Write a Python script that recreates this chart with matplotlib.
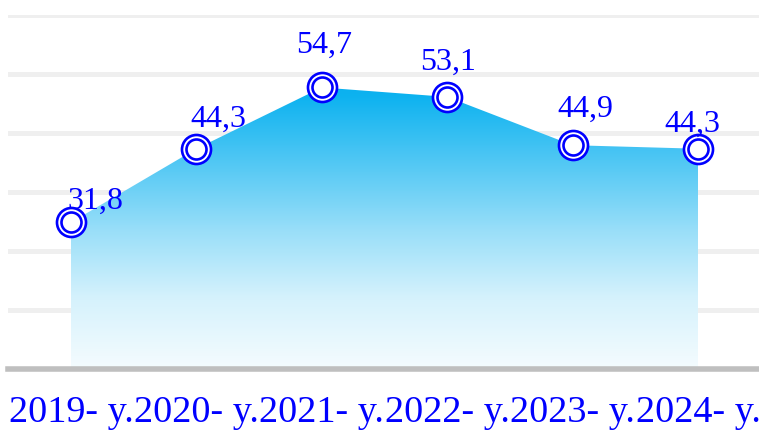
import numpy as np
import matplotlib
matplotlib.use("Agg")
import matplotlib.pyplot as plt
from matplotlib.colors import to_rgb

categories = ["2019- y.", "2020- y.", "2021- y.", "2022- y.", "2023- y.", "2024- y."]
values = [31.8, 44.3, 54.7, 53.1, 44.9, 44.3]
labels = ["31,8", "44,3", "54,7", "53,1", "44,9", "44,3"]

# label offsets in pixels (dx, dy above the point to the baseline)
label_dx = [24, 22, 2, 1, 13, -6]
label_dy = [14, 22, 35, 27, 28, 17]

W, H = 759, 432
fig = plt.figure(figsize=(W / 100, H / 100), dpi=100)
y_top_px, y_bot_px = 15, 368.5
ax = fig.add_axes([8.3 / W, 1 - y_bot_px / H, 752.4 / W, (y_bot_px - y_top_px) / H])
ymin, ymax = 7, 67
ax.set_xlim(-0.5, len(categories) - 0.5)
ax.set_ylim(ymin, ymax)

x = np.arange(len(categories))

# gridlines
for g in np.arange(ymin + 10, ymax + 0.1, 10):
    ax.axhline(g, color="#EFEFEF", lw=3.6, zorder=0)

# gradient fill clipped to the area polygon
poly = ax.fill_between(x, values, ymin, facecolor="none", edgecolor="none", zorder=1)
n = 400
yy = np.linspace(ymax, ymin, n)
anchor_v = [ymin, 19.1, 30.5, 42.4, 53.4, ymax]
anchor_a = [0.04, 0.165, 0.40, 0.69, 0.95, 1.0]
alpha = np.interp(yy, anchor_v, anchor_a)
base = np.array(to_rgb("#00AEEF"))
rgb = 1 - alpha[:, None] * (1 - base[None, :])
img = np.repeat(rgb[:, None, :], 2, axis=1)
im = ax.imshow(img, extent=[-0.5, len(categories) - 0.5, ymin, ymax], aspect="auto",
               origin="upper", zorder=1, interpolation="bilinear")
im.set_clip_path(poly.get_paths()[0], transform=ax.transData)

# markers: double ring
ax.plot(x, values, ls="none", marker="o", ms=20.9, mfc="white", mec="#0000FF", mew=1.9, zorder=3)
ax.plot(x, values, ls="none", marker="o", ms=14.4, mfc="white", mec="#0000FF", mew=1.9, zorder=4)

serif = ["Liberation Serif", "DejaVu Serif"]
for xi, v, lab, dx, dy in zip(x, values, labels, label_dx, label_dy):
    ax.annotate(lab, (xi, v), xytext=(dx * 0.72, dy * 0.72), textcoords="offset points",
                ha="center", va="baseline", fontsize=23, color="#0000FF", family=serif, zorder=5)

for s in ["top", "left", "right"]:
    ax.spines[s].set_visible(False)
ax.spines["bottom"].set_color("#BFBFBF")
ax.spines["bottom"].set_linewidth(4.0)
ax.spines["bottom"].set_zorder(6)
ax.set_yticks([])
ax.set_xticks(x)
ax.set_xticklabels(categories, fontsize=27.5, color="#0000FF", family=serif)
ax.tick_params(axis="x", length=0, pad=19.5)
ax.set_facecolor("white")

fig.savefig("out.png", dpi=100)
